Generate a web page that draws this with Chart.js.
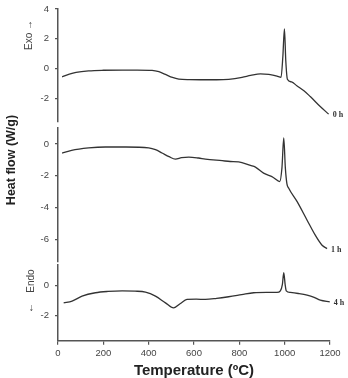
<!DOCTYPE html>
<html><head><meta charset="utf-8">
<script src="https://cdn.jsdelivr.net/npm/chart.js@4"></script>
<style>
html,body{margin:0;padding:0;background:#fff;}
#wrap{position:relative;width:348px;height:378px;overflow:hidden;font-family:"Liberation Sans",Arial,sans-serif;}
.panel{position:absolute;left:0;width:348px;}
.rot{position:absolute;transform:translate(-50%,-50%) rotate(-90deg);white-space:nowrap;line-height:1;}
</style></head><body>
<div id="wrap">
  <div class="panel" style="top:0;height:125px"><canvas id="c0"></canvas></div>
  <div class="panel" style="top:125px;height:140px"><canvas id="c1"></canvas></div>
  <div class="panel" style="top:262px;height:116px"><canvas id="c2"></canvas></div>
  <div class="rot" style="left:11px;top:160px;font-weight:bold;font-size:12.5px;color:#222">Heat flow (W/g)</div>
  <div class="rot" style="left:29px;top:34.5px;font-size:10px;color:#444">Exo →</div>
  <div class="rot" style="left:30.5px;top:280.5px;font-size:10px;color:#444">Endo</div>
  <div class="rot" style="left:30px;top:308px;font-size:10px;color:#444">←</div>
</div>
<script>
// ---- data ----
const xTicks = [0, 200, 400, 600, 800, 1000, 1200];

const temps0 = [18, 50, 80, 135, 200, 283, 350, 415, 445, 474, 505, 533, 580, 650, 700, 753, 812, 850, 893, 930, 966, 984, 992, 999, 1005, 1012, 1030, 1055, 1085, 1113, 1157, 1194];
const flow0  = [-0.56, -0.38, -0.26, -0.16, -0.12, -0.11, -0.11, -0.13, -0.22, -0.40, -0.60, -0.71, -0.75, -0.76, -0.76, -0.73, -0.60, -0.47, -0.36, -0.40, -0.51, -0.60, 0.8, 2.67, 0.5, -0.72, -0.9, -1.18, -1.5, -1.89, -2.56, -3.07];
const ticks0 = [-2, 0, 2, 4];

const temps1 = [18, 60, 135, 209, 300, 400, 430, 459, 490, 518, 545, 577, 620, 650, 724, 760, 797, 849, 871, 907, 950, 978, 988, 996, 1003, 1010, 1018, 1055, 1099, 1135, 1165, 1187];
const flow1  = [-0.57, -0.40, -0.25, -0.19, -0.19, -0.25, -0.36, -0.57, -0.80, -0.95, -0.86, -0.82, -0.88, -0.95, -1.05, -1.10, -1.12, -1.35, -1.45, -1.83, -2.1, -2.36, -1.5, 0.38, -1.5, -2.5, -2.78, -3.62, -4.78, -5.72, -6.35, -6.56];
const ticks1 = [-6, -4, -2, 0];

const temps4 = [25, 62, 106, 165, 220, 283, 340, 386, 430, 474, 510, 540, 569, 610, 650, 700, 753, 810, 863, 920, 966, 981, 990, 996, 1002, 1007, 1025, 1060, 1099, 1130, 1157, 1199];
const flow4  = [-1.15, -1.03, -0.70, -0.47, -0.38, -0.34, -0.36, -0.43, -0.70, -1.15, -1.49, -1.19, -0.92, -0.90, -0.92, -0.85, -0.74, -0.6, -0.47, -0.45, -0.45, -0.34, 0.1, 0.88, 0.1, -0.34, -0.45, -0.52, -0.63, -0.78, -0.97, -1.08];
const ticks4 = [-2, 0];

const seriesLabels = ['0 h', '1 h', '4 h'];

// ---- drawing ----
const FAM = '"Liberation Sans", Arial, sans-serif';
const endLabel = {
  id: 'endLabel',
  afterDatasetsDraw(chart, args, opts) {
    const meta = chart.getDatasetMeta(0);
    const pt = meta.data[meta.data.length - 1];
    const ctx = chart.ctx;
    ctx.save();
    ctx.font = 'bold 8px "Liberation Serif", "DejaVu Serif", serif';
    ctx.fillStyle = '#333';
    ctx.textBaseline = 'middle';
    ctx.textAlign = 'left';
    ctx.fillText(opts.text, pt.x + 4, pt.y + 1);
    ctx.restore();
  }
};

function makeChart(id, temps, flows, yMin, yMax, yTicks, label, showX, padding) {
  return new Chart(document.getElementById(id), {
    type: 'line',
    data: {
      datasets: [{
        data: temps.map((t, i) => ({ x: t, y: flows[i] })),
        borderColor: '#333',
        borderWidth: 1.3,
        pointRadius: 0,
        fill: false,
        cubicInterpolationMode: 'monotone'
      }]
    },
    options: {
      responsive: true,
      maintainAspectRatio: false,
      animation: false,
      events: [],
      layout: { padding: padding },
      plugins: { legend: { display: false }, tooltip: { enabled: false }, endLabel: { text: label } },
      scales: {
        x: {
          type: 'linear', min: 0, max: 1200, display: showX,
          afterBuildTicks: s => { s.ticks = xTicks.map(v => ({ value: v })); },
          afterFit: s => { s.height = showX ? 37.3 : 0; },
          grid: { drawOnChartArea: false, drawTicks: true, tickLength: 4, color: '#555', lineWidth: 1.2 },
          border: { display: true, color: '#555', width: 1.5 },
          ticks: { padding: 3, color: '#444', font: { size: 9.5, family: FAM }, maxRotation: 0, callback: v => String(v) },
          title: { display: true, text: 'Temperature (ºC)', color: '#222', padding: { top: 0, bottom: 0 },
                   font: { size: 15, weight: 'bold', family: FAM, lineHeight: 0.9 } }
        },
        y: {
          type: 'linear', min: yMin, max: yMax,
          afterFit: s => { s.width = 58; s.paddingTop = 0; s.paddingBottom = 0; },
          afterBuildTicks: s => { s.ticks = yTicks.map(v => ({ value: v })); },
          grid: { drawOnChartArea: false, drawTicks: true, tickLength: 3, color: '#555', lineWidth: 1.2 },
          border: { display: true, color: '#555', width: 1.5 },
          ticks: { padding: 6, color: '#444', font: { size: 9.5, family: FAM }, callback: v => String(v) }
        }
      }
    },
    plugins: [endLabel]
  });
}

makeChart('c0', temps0, flow0, -3.6, 4, ticks0, seriesLabels[0], false, { left: 0, right: 18, top: 9, bottom: 3 });
makeChart('c1', temps1, flow1, -7.4, 1, ticks1, seriesLabels[1], false, { left: 0, right: 18, top: 3, bottom: 3 });
makeChart('c2', temps4, flow4, -3.7, 1.4, ticks4, seriesLabels[2], true, { left: 0, right: 18, top: 3, bottom: 0 });
</script>
</body></html>
